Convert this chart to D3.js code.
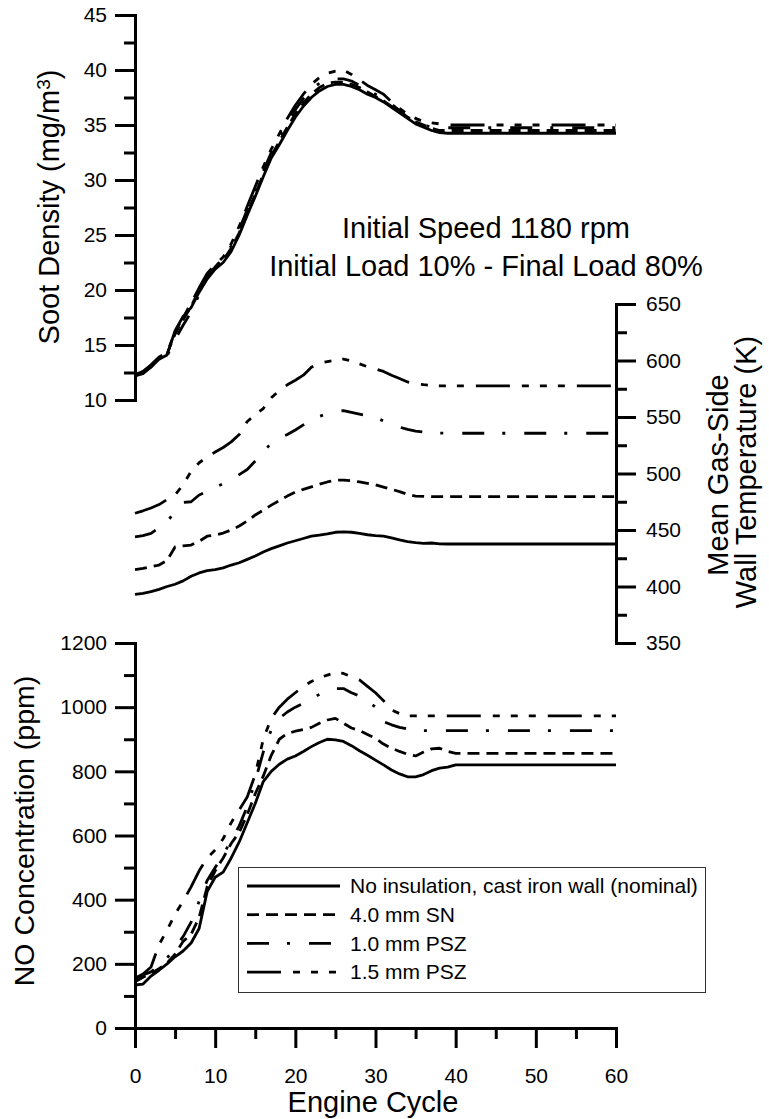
<!DOCTYPE html>
<html>
<head>
<meta charset="utf-8">
<script src="https://cdn.jsdelivr.net/npm/d3@7"></script>
<style>
  body { margin: 0; background: #fff; }
  svg { display: block; }
  text { font-family: "Liberation Sans", Arial, sans-serif; fill: #000; }
  .axis path, .axis line { stroke: #000; stroke-width: 3px; }
  .axis text { font-size: 21px; font-family: "Liberation Sans", Arial, sans-serif; }
  .curve { fill: none; stroke: #000; stroke-width: 2.8px; stroke-linejoin: round; }
</style>
</head>
<body>
<div id="chart"></div>
<script>
// engine cycles shared by every curve
const cycles = [0,1,2,3,4,5,6,7,8,9,10,11,12,13,14,15,16,17,18,19,20,
                21,22,23,24,25,26,27,28,29,30,31,32,33,34,35,36,37,38,39,40,60];

// soot density (mg/m3)
const sootNominal = [12.2,12.4,13.0,13.7,14.1,16.3,17.6,18.4,19.8,21.0,21.9,22.5,23.5,25.0,26.8,28.5,30.3,32.0,33.2,34.5,35.7,
                     36.7,37.5,38.1,38.5,38.7,38.7,38.5,38.2,37.8,37.5,37.1,36.6,36.1,35.6,35.1,34.8,34.5,34.3,34.25,34.25,34.25];
const sootSN      = [12.3,12.5,13.1,13.8,14.2,16.0,17.3,18.5,20.0,21.2,22.0,22.7,23.8,25.2,27.0,28.7,30.5,32.2,33.5,34.8,36.0,
                     37.0,37.8,38.4,38.8,38.9,38.9,38.7,38.4,38.0,37.6,37.2,36.7,36.2,35.7,35.3,35.0,34.7,34.5,34.5,34.5,34.5];
const sootPSZ10   = [12.2,12.5,13.0,13.7,14.0,15.5,16.8,18.0,19.6,21.2,22.1,22.9,24.0,25.5,27.3,29.0,30.8,32.5,33.8,35.2,36.4,
                     37.4,38.2,38.8,39.1,39.2,39.2,39.0,38.6,38.2,37.8,37.4,36.9,36.3,35.7,35.3,35.0,34.8,34.75,34.75,34.75,34.75];
const sootPSZ15   = [12.3,12.6,13.2,13.9,14.3,16.2,17.5,18.8,20.2,21.5,22.3,23.0,24.2,25.8,27.6,29.4,31.2,32.8,34.2,35.6,36.8,
                     37.8,38.7,39.3,39.7,39.9,40.0,39.6,39.1,38.6,38.2,37.8,37.1,36.5,36.0,35.6,35.3,35.2,35.1,35.0,35.0,35.0];

// mean gas-side wall temperature (K)
const tempNominal = [393,394,395.5,397.5,400,402,405,409,412,414,415,416.5,419,421,424,427,430.5,433.5,436,438.5,440.5,
                     442.5,444.5,445.5,446.5,448,448.3,448,447,445.8,445,444.5,443,441.2,439.8,438.8,438.2,438.5,437.8,437.6,437.6,437.6];
const tempSN      = [415,416,417.5,419,423,435,436,436.7,440,444.5,445.5,447.3,450,453.5,458,463.3,467.5,472,476,480,483.5,
                     486,488.2,490.5,492.5,494,494.2,493.5,492.5,491.2,490,488,486,484,481.5,480,479.8,479.5,479.5,479.5,479.5,479.5];
const tempPSZ10   = [444,445,447,452,457.5,466,474.3,475,481,484,487.8,491,494.5,499,503.5,511,519,527,531.5,534.5,538.5,
                     543,547.3,550.5,553,554.5,555.6,554,552.5,551,549.5,546.5,543.8,541,539,537.5,536.6,536,535.7,535.6,535.6,535.6];
const tempPSZ15   = [464.8,467,469.5,472.5,477,481,490,502,509.5,514.5,519,523,528,534.5,546,552,557.5,567,573.5,578.5,582.5,
                     587,594,597.5,599,600.3,601.3,599.5,597,594.5,592.5,590.3,587,584,581,579.5,578.6,578,577.6,577.5,577.5,577.5];

// NO concentration (ppm)
const noNominal = [134,137,162,180,200,222,240,265,310,425,470,486,530,580,640,700,768,800,822,838,848,
                   862,877,890,900,898,893,880,864,850,835,820,804,792,783,783,790,802,810,813,820,820];
const noSN      = [144,158,170,185,202,230,270,292,345,440,490,530,575,610,665,730,785,850,900,918,925,
                   930,937,950,960,965,950,935,927,915,903,885,872,862,853,848,860,870,872,862,856,856];
const noPSZ10   = [148,165,175,195,218,250,285,330,395,460,500,540,585,630,690,770,860,930,965,985,1000,
                   1012,1025,1040,1055,1058,1058,1045,1035,1020,1000,955,945,937,932,928,927,927,927,927,927,927];
const noPSZ15   = [155,168,190,260,305,355,395,440,490,530,555,590,640,680,720,790,900,965,1000,1025,1045,
                   1065,1080,1092,1100,1108,1105,1095,1085,1065,1045,1020,991,980,973,973,973,973,973,973,973,973];

const seriesNames = ["No insulation, cast iron wall (nominal)", "4.0 mm SN", "1.0 mm PSZ", "1.5 mm PSZ"];
const dashes = [null, "12,7", "22,18,3,19", "34,12,7,11,7,11,7,12"];

const sootTicks = [10,15,20,25,30,35,40,45];
const tempTicks = [350,400,450,500,550,600,650];
const noTicks = [0,200,400,600,800,1000,1200];
const cycleTicks = [0,10,20,30,40,50,60];

const width = 769, height = 1119;

const svg = d3.select("#chart").append("svg")
    .attr("width", width)
    .attr("height", height);

const x = d3.scaleLinear().domain([0, 60]).range([135, 616]);
const ySoot = d3.scaleLinear().domain([10, 45]).range([400, 15]);
const yTemp = d3.scaleLinear().domain([350, 650]).range([643, 304]);
const yNO = d3.scaleLinear().domain([0, 1200]).range([1028, 643]);

// minor tick values halfway between the majors
function halves(t) {
    let out = [];
    for (let i = 0; i < t.length - 1; i++) out.push((t[i] + t[i+1]) / 2);
    return out;
}

const fmt = d3.format("d");

//axes
svg.append("g").attr("class", "axis")
    .attr("transform", "translate(135,0)")
    .call(d3.axisLeft(ySoot).tickValues(sootTicks).tickSize(20).tickSizeOuter(0).tickPadding(8).tickFormat(fmt));
svg.append("g").attr("class", "axis")
    .attr("transform", "translate(135,0)")
    .call(d3.axisLeft(ySoot).tickValues(halves(sootTicks)).tickSize(11).tickSizeOuter(0).tickFormat(""));

svg.append("g").attr("class", "axis")
    .attr("transform", "translate(616,0)")
    .call(d3.axisRight(yTemp).tickValues(tempTicks).tickSize(20).tickSizeOuter(0).tickPadding(10).tickFormat(fmt));
svg.append("g").attr("class", "axis")
    .attr("transform", "translate(616,0)")
    .call(d3.axisRight(yTemp).tickValues(halves(tempTicks)).tickSize(11).tickSizeOuter(0).tickFormat(""));

svg.append("g").attr("class", "axis")
    .attr("transform", "translate(135,0)")
    .call(d3.axisLeft(yNO).tickValues(noTicks).tickSize(20).tickSizeOuter(0).tickPadding(8).tickFormat(fmt));
svg.append("g").attr("class", "axis")
    .attr("transform", "translate(135,0)")
    .call(d3.axisLeft(yNO).tickValues(halves(noTicks)).tickSize(11).tickSizeOuter(0).tickFormat(""));

svg.append("g").attr("class", "axis")
    .attr("transform", "translate(0,1028)")
    .call(d3.axisBottom(x).tickValues(cycleTicks).tickSize(20).tickSizeOuter(0).tickPadding(20).tickFormat(fmt));
svg.append("g").attr("class", "axis")
    .attr("transform", "translate(0,1028)")
    .call(d3.axisBottom(x).tickValues(halves(cycleTicks)).tickSize(11).tickSizeOuter(0).tickFormat(""));

svg.selectAll(".axis .domain").attr("stroke-linecap", "square");

//curves
const panels = [
    { y: ySoot, data: [sootNominal, sootSN, sootPSZ10, sootPSZ15] },
    { y: yTemp, data: [tempNominal, tempSN, tempPSZ10, tempPSZ15] },
    { y: yNO,   data: [noNominal, noSN, noPSZ10, noPSZ15] }
];

for (let p of panels) {
    let line = d3.line()
        .x((d, i) => x(cycles[i]))
        .y(d => p.y(d));
    svg.append("g").selectAll("path")
        .data(p.data)
      .join("path")
        .attr("class", "curve")
        .attr("d", d => line(d))
        .attr("stroke-dasharray", (d, i) => dashes[i]);
}

//axis titles
let sootTitle = svg.append("text")
    .attr("transform", "translate(59,207) rotate(-90)")
    .attr("text-anchor", "middle")
    .style("font-size", "29px");
sootTitle.append("tspan").text("Soot Density (mg/m");
sootTitle.append("tspan")
    .attr("dy", "-0.45em")
    .style("font-size", "19px")
    .text("3");
sootTitle.append("tspan")
    .attr("dy", "0.3em")
    .text(")");

svg.append("text")
    .attr("transform", "translate(34,831) rotate(-90)")
    .attr("text-anchor", "middle")
    .style("font-size", "28.5px")
    .text("NO Concentration (ppm)");

svg.append("text")
    .attr("transform", "translate(728,475) rotate(-90)")
    .attr("text-anchor", "middle")
    .style("font-size", "29px")
    .text("Mean Gas-Side");

svg.append("text")
    .attr("transform", "translate(756,472) rotate(-90)")
    .attr("text-anchor", "middle")
    .style("font-size", "29px")
    .text("Wall Temperature (K)");

svg.append("text")
    .attr("x", 373)
    .attr("y", 1112)
    .attr("text-anchor", "middle")
    .style("font-size", "29px")
    .text("Engine Cycle");

//operating point note
svg.append("text")
    .attr("x", 486).attr("y", 238)
    .attr("text-anchor", "middle")
    .style("font-size", "29px")
    .text("Initial Speed 1180 rpm");
svg.append("text")
    .attr("x", 486).attr("y", 276)
    .attr("text-anchor", "middle")
    .style("font-size", "29px")
    .text("Initial Load 10% - Final Load 80%");

//legend
let legend = svg.append("g").attr("class", "legend");
legend.append("rect")
    .attr("x", 238.5).attr("y", 867.5)
    .attr("width", 467).attr("height", 125)
    .attr("fill", "#fff")
    .attr("stroke", "#333")
    .attr("stroke-width", 1);

let rows = legend.selectAll("g.row")
    .data(seriesNames)
  .join("g")
    .attr("class", "row")
    .attr("transform", (d, i) => `translate(0,${886 + i * 28.7})`);

rows.append("line")
    .attr("x1", 247).attr("x2", 340)
    .attr("stroke", "#000")
    .attr("stroke-width", 2.8)
    .attr("stroke-dasharray", (d, i) => dashes[i]);

rows.append("text")
    .attr("x", 350)
    .attr("dy", "0.35em")
    .style("font-size", "21px")
    .text(d => d);
</script>
</body>
</html>
